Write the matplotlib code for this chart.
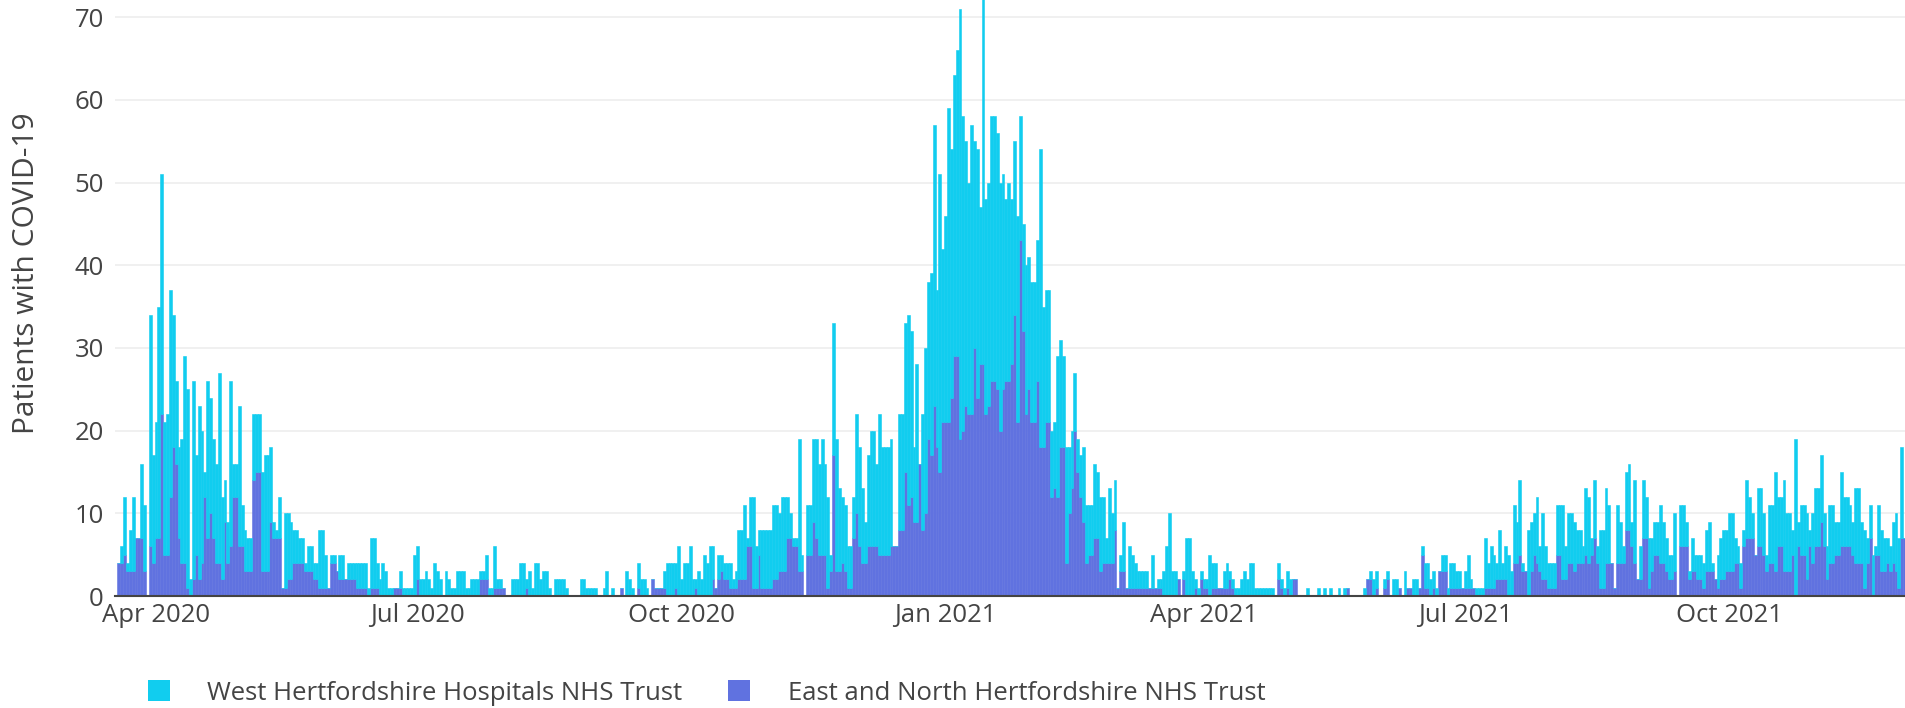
import numpy as np
import pandas as pd
import matplotlib
matplotlib.use("Agg")
import matplotlib.pyplot as plt
from matplotlib.patches import Patch

plt.rcParams['font.family'] = ['Open Sans', 'DejaVu Sans']

start_date = "2020-03-19"

# daily totals (top of stacked bar)
total = [
    4, 6, 12, 4, 8, 12, 7, 7, 16, 11, 0, 34, 17, 21, 35, 51, 21, 22, 37, 34, 26, 18, 19, 29, 25,
    2, 26, 17, 23, 20, 15, 26, 24, 19, 16, 27, 12, 14, 9, 26, 16, 16, 23, 11, 8, 7, 7, 22, 22, 22,
    15, 17, 17, 18, 9, 8, 12, 1, 10, 10, 9, 8, 8, 7, 7, 4, 6, 6, 4, 4, 8, 8, 5, 1, 5, 5, 3, 5, 5, 2,
    4, 4, 4, 4, 4, 4, 4, 1, 7, 7, 4, 2, 4, 3, 1, 1, 1, 1, 3, 1, 1, 1,
    1, 5, 6, 2, 2, 3, 2, 1, 4, 3, 2, 0, 3, 2, 1, 1, 3, 3, 3, 1, 1, 2, 2, 2, 3, 3, 5, 1, 1, 6, 2, 2, 1,
    0, 0, 2, 2, 2, 4, 4, 2, 3, 1, 4, 4, 2, 3, 3, 1, 0, 2, 2, 2,
    2, 1, 0, 0, 0, 0, 2, 2, 1, 1, 1, 1, 0, 0, 1, 3, 0, 1, 0, 0, 1, 0, 3, 2, 1, 0, 4, 2, 2, 1, 0, 2,
    1, 1, 1, 3, 4, 4, 4, 4, 6, 2, 4, 4, 6, 2, 2, 3, 2, 5, 4, 6,
    6, 1, 5, 5, 4, 4, 4, 2, 3, 8, 8, 11, 7, 12, 12, 6, 8, 8, 8, 8, 8, 11, 11, 10, 12, 12, 12, 10,
    7, 7, 19, 5, 0, 11, 11, 19, 19, 16, 19, 16, 12, 5, 33, 19, 13, 12, 11, 6, 6, 12, 22, 18,
    13, 9, 17, 20, 20, 16, 22, 18, 18, 18, 19, 6, 6, 22, 22, 33, 34, 32, 18, 28, 16, 22, 30, 38, 39,
    57, 37, 51, 42, 46, 59, 54, 63, 66, 71, 58, 55, 50, 57, 55, 54, 47, 73, 48, 50, 58, 58, 56, 50,
    51, 48,
    50, 48, 55, 46, 58, 45, 40, 41, 38, 38, 43, 54, 35, 37, 37, 20, 21, 29, 31, 29, 18, 18, 20, 27,
    19, 17, 18, 11, 11, 11, 16, 15, 12, 12, 7, 13, 10, 14, 1, 5, 9, 1, 6, 5, 4, 3, 3, 3, 3, 1, 5, 1,
    2, 2, 3, 6, 10, 3, 3, 2, 0, 3, 7, 7, 3, 2, 1, 3, 2, 2, 5, 4, 4, 1, 1, 3, 4, 3, 2, 1, 1, 2, 3, 2,
    4, 4, 1, 1, 1, 1, 1, 1, 1, 0, 4, 2, 1, 3, 2, 2, 2, 0, 0, 0, 1,
    0, 0, 0, 1, 0, 1, 0, 1, 0, 0, 1, 0, 1, 1, 0, 0, 0, 0, 0, 1, 2, 3, 2, 3, 0, 0, 2, 3, 0, 2, 2, 1,
    0, 3, 1, 1, 2, 2, 1, 6, 4, 4, 2, 3, 1, 3, 5, 5, 1, 4, 4, 3, 3,
    1, 3, 5, 2, 1, 1, 1, 1, 7, 4, 6, 5, 4, 8, 4, 6, 5, 3, 11, 9, 14, 4, 3, 8, 9, 10, 12, 6, 10, 6,
    4, 4, 4, 11, 11, 11, 6, 10, 10, 9, 8, 8, 6, 13, 12, 7, 14, 6, 8, 8, 13,
    11, 4, 1, 11, 9, 6, 15, 16, 9, 14, 2, 6, 14, 12, 7, 7, 9, 9, 11, 9, 7, 5, 5, 10, 0, 11, 11, 9,
    3, 7, 5, 5, 5, 4, 8, 9, 4, 2, 5, 7, 8, 8, 10, 10, 7, 6, 4, 8, 14, 12, 10,
    5, 13, 13, 10, 5, 11, 11, 15, 12, 12, 14, 10, 10, 8, 19, 9, 11, 11, 10, 8, 10, 13, 13, 17, 10,
    6, 11, 11, 9, 9, 15, 12, 12, 11, 9, 13, 13, 9, 8, 7, 11, 5, 6, 11, 8, 7, 7, 6, 9, 10, 7, 18, 7,
]

# East and North Hertfordshire NHS Trust (lower part of each bar)
east = [
    4, 4, 5, 3, 3, 3, 7, 7, 7, 3, 0, 6, 4, 7, 7, 22, 5, 5, 12, 18, 16, 7, 4, 4, 1,
    0, 2, 5, 2, 4, 12, 7, 10, 7, 4, 4, 2, 9, 4, 6, 12, 12, 6, 6, 3, 3, 3, 14, 15, 15,
    3, 3, 3, 9, 7, 7, 7, 1, 1, 2, 2, 4, 4, 4, 4, 3, 3, 3, 2, 2, 1, 1, 1, 1, 4, 4, 3, 2, 2, 2,
    2, 2, 2, 1, 1, 1, 1, 0, 1, 1, 1, 0, 0, 0, 0, 0, 1, 1, 1, 0, 0, 0,
    0, 0, 2, 0, 0, 0, 0, 0, 0, 0, 0, 0, 0, 0, 0, 0, 0, 0, 0, 0, 0, 0, 0, 0, 2, 2, 2, 0, 0, 1, 1, 1, 1,
    0, 0, 0, 0, 0, 0, 0, 1, 0, 0, 0, 0, 0, 0, 0, 0, 0, 0, 0, 0,
    0, 0, 0, 0, 0, 0, 0, 0, 0, 0, 0, 0, 0, 0, 0, 0, 0, 0, 0, 0, 1, 0, 0, 0, 0, 0, 1, 0, 0, 0, 0, 2,
    1, 1, 1, 1, 0, 0, 0, 1, 0, 0, 0, 0, 0, 0, 1, 0, 0, 0, 0, 0,
    2, 1, 2, 3, 2, 2, 1, 1, 1, 2, 2, 2, 6, 6, 1, 1, 5, 1, 1, 1, 1, 2, 2, 3, 3, 3, 7, 7,
    6, 6, 3, 3, 0, 5, 5, 9, 7, 5, 5, 5, 1, 3, 17, 3, 3, 4, 3, 1, 1, 7, 10, 6,
    4, 4, 6, 6, 6, 6, 5, 5, 5, 5, 6, 6, 6, 8, 8, 15, 11, 12, 9, 9, 16, 8, 10, 19, 17,
    23, 18, 15, 21, 21, 21, 24, 29, 29, 19, 20, 23, 22, 22, 30, 24, 28, 28, 22, 23, 26, 26, 25, 20,
    25, 26,
    26, 28, 34, 21, 43, 32, 22, 25, 21, 21, 26, 18, 18, 21, 21, 12, 13, 12, 18, 18, 4, 10, 13, 20,
    15, 12, 9, 4, 5, 5, 7, 7, 3, 4, 4, 4, 4, 8, 1, 3, 3, 1, 1, 1, 1, 1, 1, 1, 1, 1, 1, 1,
    1, 1, 0, 0, 0, 0, 0, 2, 0, 2, 0, 0, 0, 1, 0, 2, 1, 1, 0, 1, 1, 1, 1, 1, 1, 2, 1, 0, 0, 0, 0, 0,
    0, 0, 0, 0, 0, 0, 0, 0, 0, 0, 2, 1, 0, 1, 0, 2, 2, 0, 0, 0, 0,
    0, 0, 0, 0, 0, 0, 0, 0, 0, 0, 0, 0, 0, 1, 0, 0, 0, 0, 0, 0, 2, 2, 0, 1, 0, 0, 1, 2, 0, 0, 0, 1,
    0, 0, 1, 1, 0, 0, 1, 5, 1, 1, 0, 1, 0, 3, 3, 3, 0, 1, 1, 1, 1,
    1, 1, 1, 1, 1, 0, 0, 0, 1, 1, 1, 1, 2, 2, 2, 2, 0, 0, 4, 4, 5, 3, 3, 0, 3, 5, 4, 3, 2, 2,
    1, 1, 1, 5, 5, 2, 2, 4, 4, 3, 4, 4, 4, 5, 4, 5, 7, 4, 1, 1, 4,
    4, 4, 1, 4, 4, 4, 8, 8, 6, 4, 2, 2, 7, 7, 1, 3, 5, 5, 4, 4, 3, 2, 2, 3, 0, 6, 6, 6,
    2, 3, 3, 2, 2, 1, 3, 3, 3, 2, 1, 2, 2, 3, 3, 3, 4, 4, 1, 6, 7, 7, 7,
    5, 6, 6, 5, 3, 4, 4, 3, 6, 6, 3, 3, 3, 5, 0, 6, 5, 5, 2, 6, 4, 6, 6, 9, 6,
    2, 4, 4, 5, 5, 6, 6, 6, 6, 5, 4, 4, 4, 1, 4, 7, 0, 5, 5, 3, 3, 4, 3, 4, 3, 1, 7, 7,
]

west_label = "West Hertfordshire Hospitals NHS Trust"
east_label = "East and North Hertfordshire NHS Trust"
tick_dates = ["2020-04-01", "2020-07-01", "2020-10-01", "2021-01-01",
              "2021-04-01", "2021-07-01", "2021-10-01"]
tick_labels = ["Apr 2020", "Jul 2020", "Oct 2020", "Jan 2021",
               "Apr 2021", "Jul 2021", "Oct 2021"]
y_ticks = [0, 10, 20, 30, 40, 50, 60, 70]

cyan = "#11CDEF"
purple = "#6072E0"
text_col = "#444444"

total = np.array(total)
east = np.array(east)
west = total - east
dates = pd.date_range(start_date, periods=len(total), freq="D")

fig = plt.figure(figsize=(19.06, 7.08), dpi=100)
ax = fig.add_axes([115 / 1906, 112 / 708, 1 - 115 / 1906, 1 - 112 / 708])

ax.bar(dates, east, width=1.0, color=purple, edgecolor=purple, linewidth=0.4)
ax.bar(dates, west, bottom=east, width=1.0, color=cyan, edgecolor=cyan, linewidth=0.4)

ax.set_ylim(0, 72.07)
ax.set_xlim(dates[0] - pd.Timedelta(days=1.3), dates[-1] + pd.Timedelta(days=0.5))
ax.set_yticks(y_ticks)
ax.set_xticks(pd.to_datetime(tick_dates))
ax.set_xticklabels(tick_labels)
ax.tick_params(axis="both", length=0, labelsize=18.5, colors=text_col)
ax.tick_params(axis="y", pad=8)
ax.tick_params(axis="x", pad=5)
ax.grid(axis="y", color="#EEEEEE", linewidth=1.2)
ax.set_axisbelow(True)
for side in ["top", "right", "left"]:
    ax.spines[side].set_visible(False)
ax.spines["bottom"].set_color("#444444")
ax.spines["bottom"].set_linewidth(1.5)
ax.spines["bottom"].set_zorder(5)

fig.text(27 / 1906, 1 - 273 / 708, "Patients with COVID-19", rotation=90,
         ha="center", va="center", fontsize=21.5, color=text_col)

handles = [Patch(facecolor=cyan, edgecolor="none", label=west_label),
           Patch(facecolor=purple, edgecolor="none", label=east_label)]
fig.legend(handles=handles, loc="center left", bbox_to_anchor=(148 / 1906, 1 - 693 / 708),
           ncol=2, frameon=False, fontsize=18.5, labelcolor=text_col,
           handlelength=0.85, handleheight=0.85, handletextpad=1.45,
           columnspacing=1.8, borderpad=0, borderaxespad=0)

fig.savefig("out.png", dpi=100)
